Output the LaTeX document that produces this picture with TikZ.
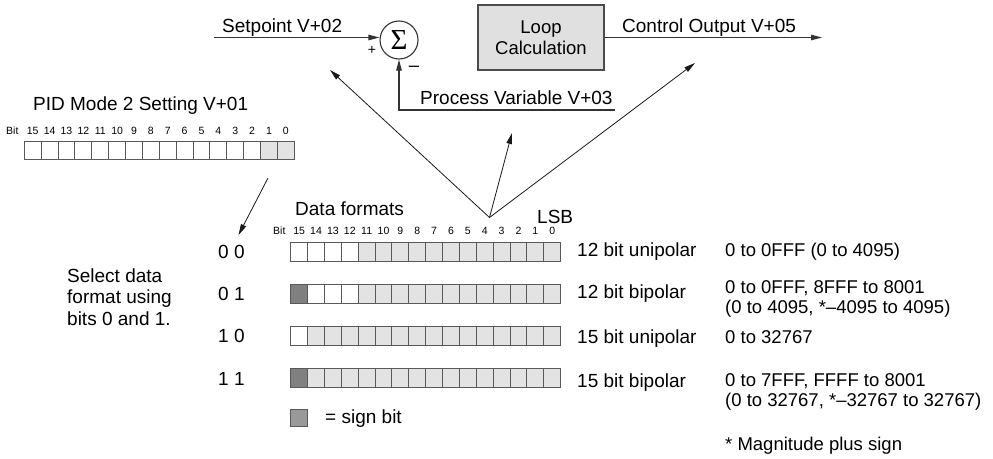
\documentclass[tikz,border=0pt]{standalone}
\usepackage{fontspec}
\setmainfont{Liberation Sans}
\newfontfamily\sigmafont{Liberation Serif}
\usetikzlibrary{arrows.meta}
\begin{document}
\begin{tikzpicture}[x=1pt,y=-1pt,
  txt/.style={font=\fontsize{19}{21}\selectfont, inner sep=0pt, anchor=base west},
  rng/.style={font=\fontsize{18.5}{20.5}\selectfont, inner sep=0pt, anchor=base west},
  bitlbl/.style={font=\fontsize{10.5}{12}\selectfont, inner sep=0pt, anchor=base},
  cell/.style={draw=black!65, line width=1pt, minimum width=16.875pt, minimum height=18.5pt, inner sep=0pt, outer sep=0pt, anchor=center},
  lt/.style={cell, fill=black!11},
  sg/.style={cell, fill=black!50},
  wh/.style={cell, fill=white},
  mainline/.style={line width=1.1pt, draw=black!80},
  thinline/.style={line width=0.8pt, draw=black!90},
  tip/.style={-{Triangle[length=11pt,width=5.5pt]}},
]
\useasboundingbox (0,0) rectangle (993,458);

% ---------- top loop ----------
\node[draw=black!80, line width=1.1pt, circle, minimum size=38pt, inner sep=0pt] (sum) at (399,40) {};
\node[inner sep=0pt, font=\sigmafont\fontsize{29}{29}\selectfont] (sigma) at (sum.center) {Σ};
\node[draw=black!70, line width=1.1pt, fill=black!12, minimum width=126pt, minimum height=65pt, inner sep=0pt, align=center, font=\fontsize{18.5}{21}\selectfont] (loop) at (541,37.5) {Loop\\Calculation};

\coordinate (spstart) at (214,37.5);
\draw[mainline, tip] (spstart) -- (spstart -| sum.west);
\node[txt] (sptxt) at (222,32) {Setpoint V+02};
\node[font=\fontsize{14}{14}\selectfont, inner sep=0pt] (plus) at (372,50) {+};
\node[font=\fontsize{18.5}{18.5}\selectfont, inner sep=0pt] (minus) at (414,69) {\textendash};

\coordinate (coend) at (822,37.5);
\draw[mainline, tip] (loop.east) -- (coend);
\node[txt] (cotxt) at (622,32) {Control Output V+05};

\coordinate (pvend) at (615,110);
\draw[mainline, tip] (pvend) -- (pvend -| sum.south) -- (sum.south);
\node[txt] (pvtxt) at (420,104) {Process Variable V+03};

% ---------- PID mode register ----------
\node[txt] (pidtxt) at (33,110.5) {PID Mode 2 Setting V+01};
\node[bitlbl, anchor=base west] (pidbit) at (6,134) {Bit};
\foreach \s [count=\i from 0] in {wh,wh,wh,wh,wh,wh,wh,wh,wh,wh,wh,wh,wh,wh,lt,lt}{
  \pgfmathtruncatemacro\b{15-\i}
  \node[\s, minimum height=18pt] (pid\b) at ({24.3+16.875*(\i+0.5)},150) {};
  \node[bitlbl] (pidl\b) at ({24.3+16.875*(\i+0.5)},134) {\b};
}
\coordinate (selstart) at (268,178);
\coordinate (seltip) at (238.5,235);
\draw[thinline, tip] (selstart) -- (seltip);

% ---------- data formats ----------
\node[txt] (dftxt) at (295,215) {Data formats};
\node[txt] (lsb) at (537,223) {LSB};
\node[bitlbl, anchor=base west] (dfbit) at (273,234) {Bit};
\foreach \i in {0,...,15}{
  \pgfmathtruncatemacro\b{15-\i}
  \node[bitlbl] (dfl\b) at ({290.7+16.875*(\i+0.5)},234) {\b};
}
\foreach \s [count=\i from 0] in {wh,wh,wh,wh,lt,lt,lt,lt,lt,lt,lt,lt,lt,lt,lt,lt}{
  \pgfmathtruncatemacro\b{15-\i}
  \node[\s] (ra\b) at ({290.7+16.875*(\i+0.5)},252) {};
}
\foreach \s [count=\i from 0] in {sg,wh,wh,wh,lt,lt,lt,lt,lt,lt,lt,lt,lt,lt,lt,lt}{
  \pgfmathtruncatemacro\b{15-\i}
  \node[\s] (rb\b) at ({290.7+16.875*(\i+0.5)},294) {};
}
\foreach \s [count=\i from 0] in {wh,lt,lt,lt,lt,lt,lt,lt,lt,lt,lt,lt,lt,lt,lt,lt}{
  \pgfmathtruncatemacro\b{15-\i}
  \node[\s] (rc\b) at ({290.7+16.875*(\i+0.5)},336) {};
}
\foreach \s [count=\i from 0] in {sg,lt,lt,lt,lt,lt,lt,lt,lt,lt,lt,lt,lt,lt,lt,lt}{
  \pgfmathtruncatemacro\b{15-\i}
  \node[\s] (rd\b) at ({290.7+16.875*(\i+0.5)},378) {};
}

% row codes
\node[txt] (c00) at (218,258) {0 0};
\node[txt] (c01) at (218,300) {0 1};
\node[txt] (c10) at (218,342) {1 0};
\node[txt] (c11) at (218,385) {1 1};

\node[txt] (sel1) at (67,282) {Select data};
\node[txt] (sel2) at (67,303.5) {format using};
\node[txt] (sel3) at (67,325) {bits 0 and 1.};

% row descriptions
\node[txt] (fa) at (577,256) {12 bit unipolar};
\node[txt] (fb) at (577,298) {12 bit bipolar};
\node[txt] (fc) at (577,343) {15 bit unipolar};
\node[txt] (fd) at (577,387) {15 bit bipolar};

\node[rng] (ga) at (725,256) {0 to 0FFF (0 to 4095)};
\node[rng] (gb1) at (725,293) {0 to 0FFF, 8FFF to 8001};
\node[rng] (gb2) at (725,313.5) {(0 to 4095, *\textendash 4095 to 4095)};
\node[rng] (gc) at (725,343) {0 to 32767};
\node[rng] (gd1) at (725,386) {0 to 7FFF, FFFF to 8001};
\node[rng] (gd2) at (725,406.5) {(0 to 32767, *\textendash 32767 to 32767)};
\node[rng] (note) at (725,450) {* Magnitude plus sign};

% legend
\node[cell, fill=black!40, minimum width=17.5pt, minimum height=17.5pt] (legbox) at (299,418) {};
\node[txt] (legtxt) at (325,423) {= sign bit};

% pointer arrows
\coordinate (apex) at (489.5,217.5);
\coordinate (pa) at (330,70);
\coordinate (pb) at (512,133);
\coordinate (pc) at (695,63);
\draw[thinline, tip] (apex) -- (pa);
\draw[thinline, tip] (apex) -- (pb);
\draw[thinline, tip] (apex) -- (pc);
\end{tikzpicture}
\end{document}
